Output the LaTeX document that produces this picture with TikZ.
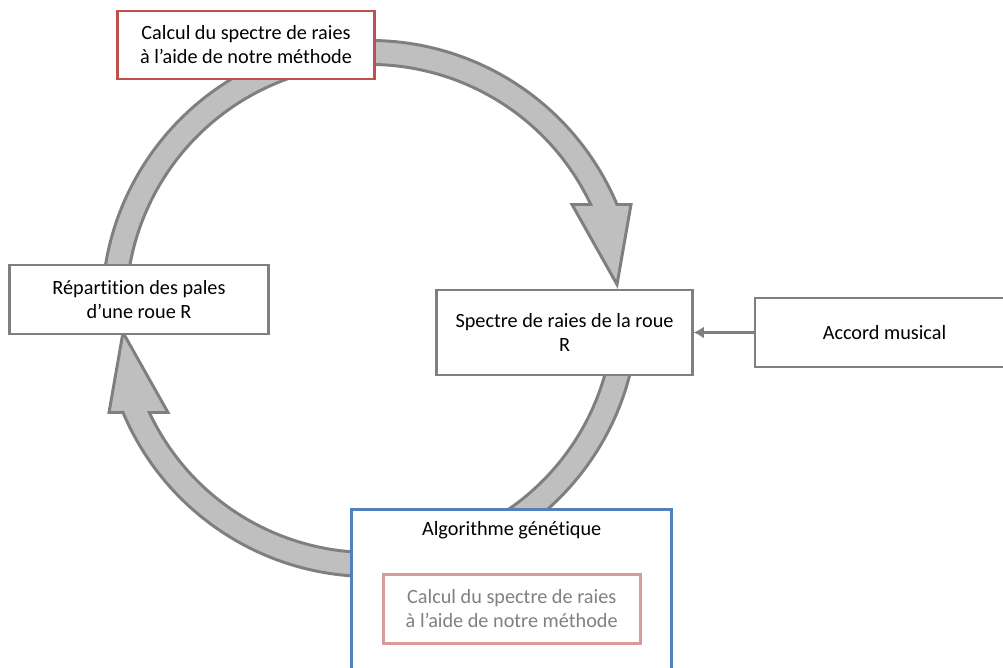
\documentclass[tikz,border=0pt]{standalone}
\usepackage{fontspec}
\setmainfont{Carlito}[Ligatures=NoCommon]
\usetikzlibrary{arrows.meta}
\definecolor{stepborder}{HTML}{7F7F7F}
\definecolor{ringfill}{HTML}{BFBFBF}
\definecolor{ringdraw}{HTML}{7F7F7F}
\definecolor{calculred}{HTML}{C0504D}
\definecolor{geneticblue}{HTML}{4F81BD}
\definecolor{fadedred}{HTML}{DB9A99}
\definecolor{fadedtext}{HTML}{808080}

\begin{document}
\begin{tikzpicture}[
        x=0.025cm, y=0.025cm,
        stepbox/.style={
            draw=stepborder,
            line width=2.1pt,
            fill=white,
            align=center,
            inner sep=0pt,
            font=\fontsize{14.4}{17}\selectfont
        },
        calculbox/.style={stepbox, draw=calculred},
        geneticbox/.style={stepbox, draw=geneticblue},
        fadedbox/.style={stepbox, draw=fadedred, text=fadedtext},
        ringarrow/.style={fill=ringfill, draw=ringdraw, line width=2.1pt, line join=miter},
        accordlink/.style={-{Latex[length=2.6mm, width=3mm]}, line width=2.1pt, stepborder}
    ]
        \clip (0,0) rectangle (1003,668);
        \fill[white] (0,0) rectangle (1003,668);

        % the cycle
        \coordinate (ringcentre) at (370,359.5);
        \draw[ringarrow]
            ([shift={(180:268)}]ringcentre)
            arc[start angle=180, end angle=22.83, radius=268]
            -- ([shift={(261,104)}]ringcentre)
            -- ([shift={(247,24)}]ringcentre)
            -- ([shift={(202,104)}]ringcentre)
            -- ([shift={(25.23:244)}]ringcentre)
            arc[start angle=25.23, end angle=180, radius=244]
            -- cycle;
        \draw[ringarrow]
            ([shift={(0:268)}]ringcentre)
            arc[start angle=0, end angle=-157.17, radius=268]
            -- ([shift={(-261,-104)}]ringcentre)
            -- ([shift={(-247,-24)}]ringcentre)
            -- ([shift={(-202,-104)}]ringcentre)
            -- ([shift={(-154.77:244)}]ringcentre)
            arc[start angle=-154.77, end angle=0, radius=244]
            -- cycle;

        \node[calculbox, minimum width=6.4cm, minimum height=1.7cm] (calcul) at (246,623)
            {Calcul du spectre de raies\\à l’aide de notre méthode};
        \node[stepbox, minimum width=6.45cm, minimum height=1.725cm] (repartition) at (139,368.5)
            {Répartition des pales\\d’une roue R};
        \node[stepbox, minimum width=6.375cm, minimum height=2.125cm] (spectre) at (564.5,335.5)
            {Spectre de raies de la roue\\R};
        \node[stepbox, minimum width=6.475cm, minimum height=1.725cm] (accord) at (884.5,335.5)
            {Accord musical};

        \draw[accordlink] (accord) -- (spectre);

        \node[geneticbox, minimum width=8cm, minimum height=4.95cm] (genetique) at (511.7,59) {};
        \node[font=\fontsize{14.4}{17}\selectfont] (geneticlabel) at (511.7,138)
            {Algorithme génétique};
        \node[fadedbox, minimum width=6.42cm, minimum height=1.725cm] (calculinner) at (511.7,59.3)
            {Calcul du spectre de raies\\à l’aide de notre méthode};
    \end{tikzpicture}
\end{document}
